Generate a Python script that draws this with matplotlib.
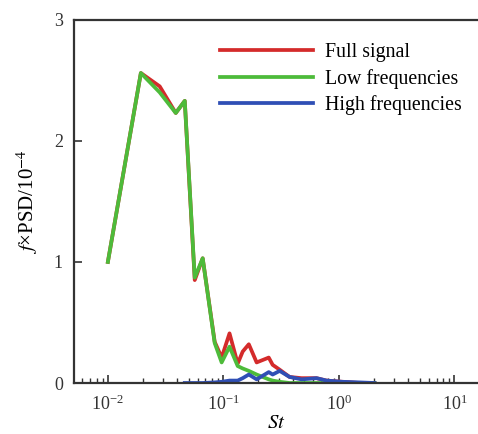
import numpy as np
import matplotlib
matplotlib.use("Agg")
import matplotlib.pyplot as plt
from matplotlib.ticker import LogLocator, NullFormatter

plt.rcParams['font.family'] = ['Liberation Serif', 'DejaVu Serif']
plt.rcParams['mathtext.fontset'] = 'stix'

# Strouhal number grid
st = [0.0100, 0.0193, 0.0281, 0.0387, 0.0463, 0.0565, 0.0662, 0.0841, 0.0966,
      0.113, 0.133, 0.147, 0.166, 0.194, 0.219, 0.247, 0.267, 0.307, 0.374,
      0.475, 0.640, 0.782, 1.07, 1.51, 2.03]

# f x PSD / 1e-4
full_signal = [1.00, 2.56, 2.45, 2.23, 2.33, 0.85, 1.03, 0.34, 0.21,
               0.41, 0.16, 0.26, 0.32, 0.17, 0.19, 0.21, 0.15, 0.11, 0.05,
               0.04, 0.04, 0.02, 0.01, 0.00, 0.00]
low_freq = [1.00, 2.56, 2.40, 2.23, 2.33, 0.87, 1.03, 0.33, 0.17,
            0.30, 0.14, 0.12, 0.10, 0.07, 0.05, 0.03, 0.02, 0.01, 0.00,
            0.00, 0.00, 0.00, 0.00, 0.00, 0.00]
high_freq = [np.nan, np.nan, np.nan, np.nan, 0.00, 0.00, 0.00, 0.005, 0.01,
             0.02, 0.02, 0.04, 0.07, 0.03, 0.06, 0.09, 0.07, 0.10, 0.05,
             0.03, 0.04, 0.02, 0.01, 0.005, 0.00]

fig = plt.figure(figsize=(4.78, 4.34), dpi=100)
ax = fig.add_axes([0.155, 0.1175, 0.845, 0.837])

ax.plot(st, full_signal, color='#d42b2b', lw=2.7, label='Full signal')
ax.plot(st, low_freq, color='#4dbb3a', lw=2.7, label='Low frequencies')
ax.plot(st, high_freq, color='#2f4fb5', lw=2.7, label='High frequencies')

ax.set_xscale('log')
ax.set_xlim(0.0051, 16)
ax.set_ylim(0, 3)
ax.set_yticks([0, 1, 2, 3])
ax.xaxis.set_major_locator(LogLocator(base=10, numticks=10))
ax.xaxis.set_minor_locator(LogLocator(base=10, subs=np.arange(2, 10), numticks=10))
ax.xaxis.set_minor_formatter(NullFormatter())

for side in ['left', 'bottom', 'top']:
    ax.spines[side].set_color('#333333')
    ax.spines[side].set_linewidth(1.6)
ax.spines['right'].set_visible(False)
ax.tick_params(which='both', direction='in', top=False, right=False,
               labelsize=13, colors='#333333', pad=8)
ax.tick_params(which='major', length=6, width=1.2)
ax.tick_params(which='minor', length=3.5, width=1.0)

ax.set_xlabel(r'$St$', fontsize=15, labelpad=0)
ax.set_ylabel(r'$f$×PSD/10$^{-4}$', fontsize=15, labelpad=10)

ax.legend(loc='upper left', bbox_to_anchor=(0.317, 0.985), frameon=False,
          fontsize=14.3, handlelength=4.7, handletextpad=0.6, labelspacing=0.33)

fig.savefig('out.png', dpi=100)
